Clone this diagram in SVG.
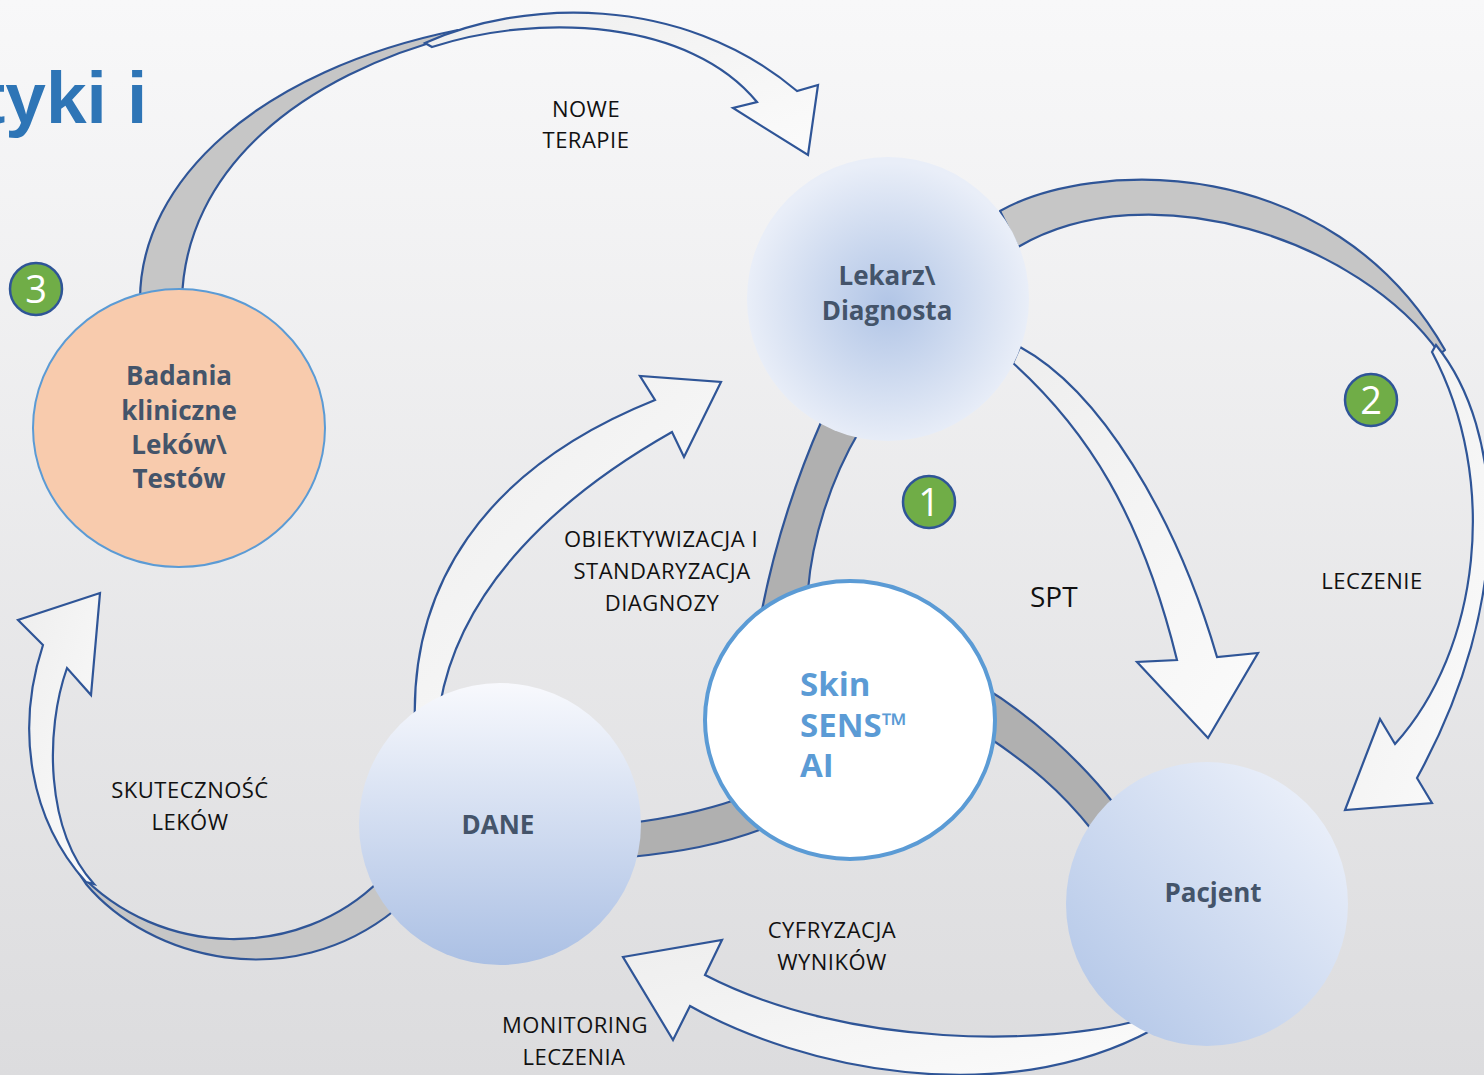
<svg xmlns="http://www.w3.org/2000/svg" width="1484" height="1075" viewBox="0 0 1484 1075">
  <defs>
    <linearGradient id="bg" x1="0" y1="0" x2="0" y2="1">
      <stop offset="0" stop-color="#f8f8f9"/>
      <stop offset="1" stop-color="#dcdcde"/>
    </linearGradient>
    <linearGradient id="light" x1="0" y1="0" x2="1" y2="1">
      <stop offset="0" stop-color="#eeeeee"/>
      <stop offset="1" stop-color="#fbfbfb"/>
    </linearGradient>
    <radialGradient id="gLekarz" cx="0.5" cy="0.52" r="0.5">
      <stop offset="0" stop-color="#b1c5e6"/>
      <stop offset="1" stop-color="#e9eef8"/>
    </radialGradient>
    <linearGradient id="gDane" x1="0" y1="0" x2="0" y2="1">
      <stop offset="0" stop-color="#f8f9fd"/>
      <stop offset="1" stop-color="#abc0e4"/>
    </linearGradient>
    <linearGradient id="gPacjent" x1="1" y1="0" x2="0" y2="1">
      <stop offset="0" stop-color="#f2f5fc"/>
      <stop offset="1" stop-color="#aec3e6"/>
    </linearGradient>
    <style>
      .band { fill: #c6c6c6; stroke: #2f5597; stroke-width: 2.2; stroke-linejoin: round; }
      .band-dark { fill: #b0b0b0; stroke: #2f5597; stroke-width: 2.2; }
      .arrow { fill: url(#light); stroke: #2f5597; stroke-width: 2.2; stroke-linejoin: miter; }
      .label { font-family: "Open Sans", "Noto Sans", sans-serif; font-size: 22px; fill: #111111; text-anchor: middle; letter-spacing: 0.5px; }
      .node-text { font-family: "Open Sans", "Noto Sans", sans-serif; font-size: 26px; font-weight: 700; fill: #44546a; text-anchor: middle; }
      .badge circle { fill: #70ad47; stroke: #2f5597; stroke-width: 2.5; }
      .badge text { font-family: "Open Sans", "Noto Sans", sans-serif; font-size: 38px; fill: #ffffff; text-anchor: middle; }
    </style>
  </defs>

  <rect x="0" y="0" width="1484" height="1075" fill="url(#bg)"/>

  <!-- heading fragment -->
  <text x="-19" y="123" font-family="'Liberation Sans', Arial, sans-serif" font-size="73" font-weight="700" fill="#2e75b6">tyki i</text>

  <!-- connectors -->
  <g id="connectors">
    <!-- Badania -> Lekarz (NOWE TERAPIE) -->
    <path class="band" d="M 140,300 C 140,180 260,70 458,30 L 458,35 C 300,75 185,170 182,300 Z"/>
    <path class="arrow" d="M 425,43 C 520,0 680,-8 797,91 L 818,85 L 808,155 L 733,108 L 757,102 C 690,20 540,12 432,47 Z"/>

    <!-- Lekarz -> Pacjent (LECZENIE) -->
    <path class="band" d="M 1000,211 C 1090,160 1330,150 1445,350 L 1440,354 C 1360,240 1150,170 1018,247 Z"/>
    <path class="arrow" d="M 1436,345 C 1505,430 1515,600 1417,778 L 1432,803 L 1345,810 L 1380,719 L 1395,744 C 1480,650 1500,480 1432,352 Z"/>

    <!-- Lekarz -> Pacjent (SPT) -->
    <path class="arrow" d="M 1020,347 C 1099,390 1175,513 1217,657 L 1258,653 L 1208,738 L 1137,662 L 1177,660 C 1141,514 1087,430 1013,363 Z"/>

    <!-- DANE -> Lekarz (OBIEKTYWIZACJA) -->
    <path class="arrow" d="M 415,725 C 410,590 480,470 655,400 L 640,376 L 721,382 L 684,457 L 672,432 C 559,496 460,587 440,705 Z"/>

    <!-- DANE -> Badania (SKUTECZNOŚĆ LEKÓW) -->
    <path class="band" d="M 380,880 C 300,960 160,960 78,872 L 86,884 C 150,960 290,995 395,910 Z"/>
    <path class="arrow" d="M 86,882 C 30,820 15,730 43,645 L 18,620 L 100,593 L 91,695 L 67,668 C 45,730 45,830 94,884 Z"/>

    <!-- Pacjent -> DANE (MONITORING LECZENIA) -->
    <path class="arrow" d="M 1140,1020 C 1050,1045 850,1050 705,975 L 722,940 L 623,957 L 673,1040 L 690,1006 C 800,1068 1000,1112 1152,1030 Z"/>

    <!-- links to SkinSENS AI -->
    <path class="band-dark" d="M 822,420 C 800,470 775,540 760,620 L 808,590 C 812,540 830,480 860,430 Z"/>
    <path class="band-dark" d="M 985,688 C 1030,715 1080,760 1115,805 L 1092,830 C 1060,790 1030,765 985,735 Z"/>
    <path class="band-dark" d="M 630,823 C 670,818 700,812 735,800 L 765,828 C 720,845 680,852 630,857 Z"/>
  </g>

  <!-- nodes -->
  <g id="node-badania">
    <ellipse cx="179" cy="428" rx="146" ry="139" fill="#f8cbad" stroke="#5b9bd5" stroke-width="2"/>
    <text class="node-text" x="179" y="385">Badania</text>
    <text class="node-text" x="179" y="420">kliniczne</text>
    <text class="node-text" x="179" y="454">Leków\</text>
    <text class="node-text" x="179" y="488">Testów</text>
  </g>

  <g id="node-lekarz">
    <ellipse cx="888" cy="299" rx="141" ry="142" fill="url(#gLekarz)"/>
    <text class="node-text" x="887" y="285">Lekarz\</text>
    <text class="node-text" x="887" y="320">Diagnosta</text>
  </g>

  <g id="node-dane">
    <ellipse cx="500" cy="824" rx="141" ry="141" fill="url(#gDane)"/>
    <text class="node-text" x="498" y="834">DANE</text>
  </g>

  <g id="node-skinsens">
    <ellipse cx="850" cy="720" rx="145" ry="139" fill="#ffffff" stroke="#5b9bd5" stroke-width="4"/>
    <g font-family="'Open Sans', 'Noto Sans', sans-serif" font-size="33" font-weight="700" fill="#5b9bd5">
      <text x="800" y="696">Skin</text>
      <text x="800" y="737">SENS™</text>
      <text x="800" y="777">AI</text>
    </g>
  </g>

  <g id="node-pacjent">
    <ellipse cx="1207" cy="904" rx="141" ry="142" fill="url(#gPacjent)"/>
    <text class="node-text" x="1213" y="902">Pacjent</text>
  </g>

  <!-- step badges -->
  <g id="badge-1" class="badge">
    <circle cx="929" cy="502" r="26"/>
    <text x="929" y="516">1</text>
  </g>
  <g id="badge-2" class="badge">
    <circle cx="1371" cy="400" r="26"/>
    <text x="1371" y="414">2</text>
  </g>
  <g id="badge-3" class="badge">
    <circle cx="36" cy="289" r="26"/>
    <text x="36" y="303">3</text>
  </g>

  <!-- connector labels -->
  <g id="labels">
    <text class="label" x="586" y="117">NOWE</text>
    <text class="label" x="586" y="148">TERAPIE</text>
    <text class="label" x="661" y="547">OBIEKTYWIZACJA I</text>
    <text class="label" x="662" y="579">STANDARYZACJA</text>
    <text class="label" x="662" y="611">DIAGNOZY</text>
    <text x="1030" y="607" font-family="'Open Sans', 'Noto Sans', sans-serif" font-size="28" fill="#111111">SPT</text>
    <text class="label" x="1372" y="589">LECZENIE</text>
    <text class="label" x="190" y="798">SKUTECZNOŚĆ</text>
    <text class="label" x="190" y="830">LEKÓW</text>
    <text class="label" x="832" y="938">CYFRYZACJA</text>
    <text class="label" x="832" y="970">WYNIKÓW</text>
    <text class="label" x="575" y="1033">MONITORING</text>
    <text class="label" x="574" y="1065">LECZENIA</text>
  </g>
</svg>
